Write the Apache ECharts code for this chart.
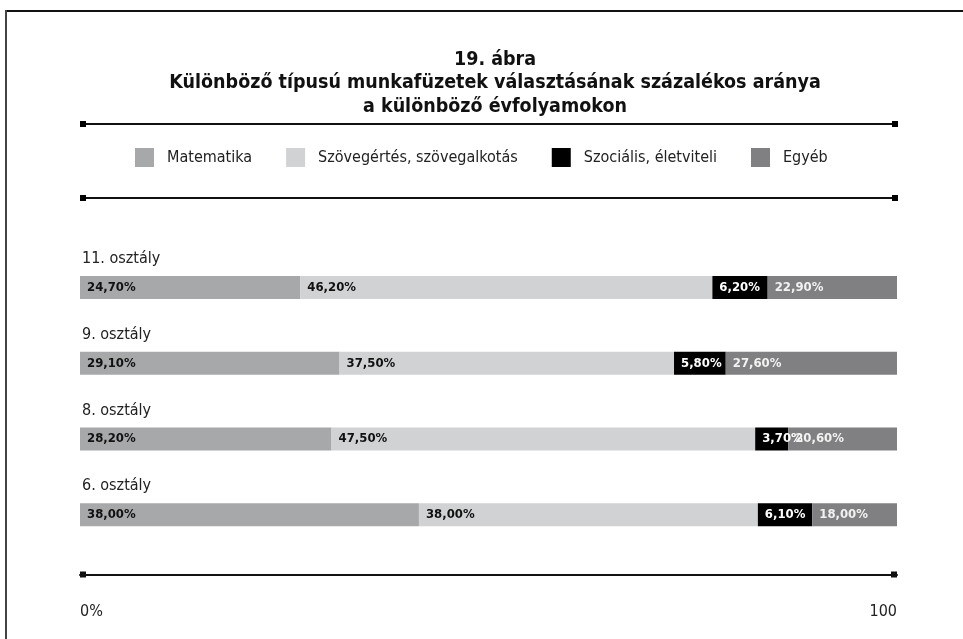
<!DOCTYPE html>
<html>
<head>
<meta charset="utf-8">
<title>19. ábra</title>
<script src="https://cdn.jsdelivr.net/npm/echarts@6/dist/echarts.min.js"></script>
<style>
  html, body { margin: 0; padding: 0; background: #fff; }
  #chart { width: 963px; height: 639px; }
</style>
</head>
<body>
<div id="chart"></div>
<script>
// Évfolyamok (felülről lefelé)
const categories = ['11. osztály', '9. osztály', '8. osztály', '6. osztály'];

// Munkafüzet-típusok százalékos aránya évfolyamonként
const seriesNames = ['Matematika', 'Szövegértés, szövegalkotás', 'Szociális, életviteli', 'Egyéb'];
const matematika = [24.7, 29.1, 28.2, 38.0];
const szovegertes = [46.2, 37.5, 47.5, 38.0];
const szocialis = [6.2, 5.8, 3.7, 6.1];
const egyeb = [22.9, 27.6, 20.6, 18.0];

// Tengelyfeliratok a skála két végén
const tickLabels = ['0%', '100'];

const FONT = '"DejaVu Sans Condensed", "Liberation Sans Narrow", "Arial Narrow", sans-serif';
const colors = ['#a7a8aa', '#d1d2d4', '#000000', '#808083'];
const labelColors = ['#111111', '#111111', '#ffffff', '#f2f2f2'];
const values = [matematika, szovegertes, szocialis, egyeb];

// A skála vége: a sávok a jobb szélen levágódnak
const AXIS_MAX = 91.6;

const fmt = v => v.toFixed(2).replace('.', ',') + '%';

const chart = echarts.init(document.getElementById('chart'), null, { renderer: 'canvas' });

const GRID_LEFT = 80, GRID_RIGHT = 897;

function rule(y) {
  return [
    { type: 'line', shape: { x1: GRID_LEFT + 3, y1: y, x2: GRID_RIGHT - 2, y2: y },
      style: { stroke: '#111', lineWidth: 2 } },
    { type: 'rect', shape: { x: GRID_LEFT, y: y - 3, width: 6, height: 6 }, style: { fill: '#000' } },
    { type: 'rect', shape: { x: GRID_RIGHT - 5, y: y - 3, width: 6, height: 6 }, style: { fill: '#000' } }
  ];
}

const option = {
  animation: false,
  backgroundColor: '#fff',
  textStyle: { fontFamily: FONT },
  title: {
    text: '19. ábra\nKülönböző típusú munkafüzetek választásának százalékos aránya\na különböző évfolyamokon',
    left: 490,
    textAlign: 'center',
    top: 43,
    textStyle: { fontFamily: FONT, fontSize: 19.5, fontWeight: 'bold', color: '#111', lineHeight: 23.5 }
  },
  legend: {
    data: seriesNames,
    left: 135,
    top: 148,
    padding: 0,
    itemWidth: 19,
    itemHeight: 19,
    itemGap: 34,
    icon: 'rect',
    textStyle: { fontFamily: FONT, fontSize: 16, color: '#222', padding: [0, 0, 0, 8] }
  },
  graphic: [
    // bal és felső keret
    { type: 'line', shape: { x1: 5, y1: 11, x2: 963, y2: 11 }, style: { stroke: '#111', lineWidth: 2 } },
    { type: 'line', shape: { x1: 6, y1: 10, x2: 6, y2: 639 }, style: { stroke: '#444', lineWidth: 2 } },
    ...rule(124),
    ...rule(198)
  ],
  grid: { left: GRID_LEFT, right: 963 - GRID_RIGHT, top: 249.5, bottom: 639 - 552.5, containLabel: false },
  xAxis: {
    type: 'value',
    min: 0,
    max: AXIS_MAX,
    interval: AXIS_MAX,
    offset: 22,
    splitLine: { show: false },
    axisTick: { show: false },
    axisLine: {
      show: true,
      symbol: ['rect', 'rect'],
      symbolSize: [6, 6],
      symbolOffset: [3, -3],
      lineStyle: { color: '#111', width: 2 }
    },
    axisLabel: {
      showMinLabel: true,
      showMaxLabel: true,
      alignMinLabel: 'left',
      alignMaxLabel: 'right',
      margin: 29,
      fontFamily: FONT,
      fontSize: 16,
      color: '#222',
      formatter: v => (v === 0 ? tickLabels[0] : tickLabels[1])
    }
  },
  yAxis: {
    type: 'category',
    data: categories,
    inverse: true,
    axisLine: { show: false },
    axisTick: { show: false },
    axisLabel: {
      show: true,
      inside: false,
      interval: 0,
      margin: -2,
      align: 'left',
      verticalAlign: 'middle',
      // the category name sits above its bar: an empty second line pushes it up
      formatter: v => '{name|' + v + '}\n{gap| }',
      rich: {
        name: { fontFamily: FONT, fontSize: 16, color: '#222', height: 20, lineHeight: 20 },
        gap: { fontSize: 10, height: 57, lineHeight: 57 }
      }
    },
    z: 10
  },
  series: values.map((data, i) => ({
    name: seriesNames[i],
    type: 'bar',
    stack: 'total',
    barWidth: 23,
    clip: true,
    data,
    itemStyle: { color: colors[i] },
    label: {
      show: true,
      position: 'insideLeft',
      distance: 7,
      formatter: p => fmt(p.value),
      fontFamily: FONT,
      fontSize: 13,
      fontWeight: 'bold',
      color: labelColors[i]
    }
  }))
};

chart.setOption(option);
</script>
</body>
</html>
